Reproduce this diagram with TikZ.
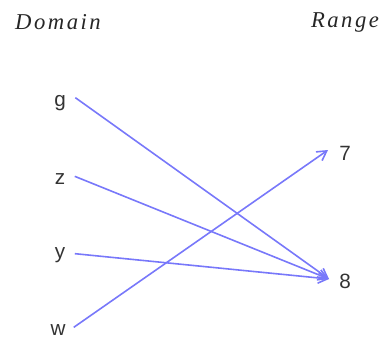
\documentclass[tikz,border=0pt]{standalone}
\usepackage{fontspec}
\setmainfont{Liberation Serif}
\setsansfont{Liberation Sans}
\usetikzlibrary{arrows.meta}
\tikzset{
  head/.style={font=\fontsize{17}{19}\selectfont\itshape\addfontfeature{LetterSpace=11}, text=black!85},
  elem/.style={font=\sffamily\fontsize{15.5}{17}\selectfont, text=black!80, inner sep=0pt},
  maps/.style={draw={rgb,255:red,120;green,120;blue,250}, line width=1.2pt,
    -{Straight Barb[length=7pt,width=8pt]}}
}
\begin{document}
\begin{tikzpicture}[x=0.75pt, y=-0.75pt]
    \useasboundingbox (0,0) rectangle (385,339);
    % headings
    \node[head] (dom) at (58,22) {Domain};
    \node[head] (ran) at (345,22) {Range};
    % domain elements
    \node[elem] (g) at (60,103) {g};
    \node[elem] (z) at (60,179) {z};
    \node[elem] (y) at (60,255) {y};
    \node[elem] (w) at (58,330) {w};
    % range elements
    \node[elem] (r7) at (345,153) {7};
    \node[elem] (r8) at (345,281) {8};
    % arrow ends
    \coordinate (e7) at (328,150);
    \coordinate (e8) at (329,279);
    % mapping arrows
    \draw[maps] ([xshift=7pt,yshift=4pt]g.east) -- (e8);
    \draw[maps] ([xshift=7pt,yshift=2pt]z.east) -- (e8);
    \draw[maps] ([xshift=7pt,yshift=1pt]y.east) -- (e8);
    \draw[maps] ([xshift=6pt,yshift=2pt]w.east) -- (e7);
  \end{tikzpicture}
\end{document}
